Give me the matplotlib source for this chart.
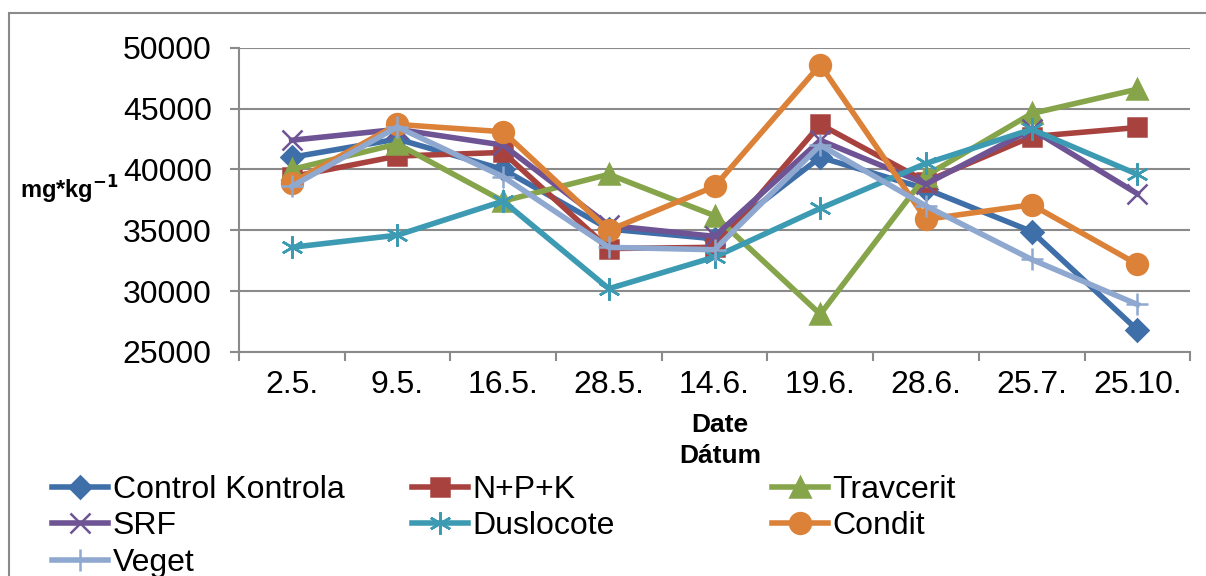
import numpy as np
import matplotlib.pyplot as plt
from matplotlib.patches import Rectangle

plt.rcParams['font.family'] = ['Liberation Sans', 'DejaVu Sans']

dates = ['2.5.', '9.5.', '16.5.', '28.5.', '14.6.', '19.6.', '28.6.', '25.7.', '25.10.']

control = [41000, 42500, 40000, 35100, 34300, 41000, 38400, 34900, 26800]
npk = [39400, 41100, 41400, 33500, 33600, 43700, 39000, 42700, 43450]
travcerit = [40000, 42100, 37400, 39600, 36200, 28100, 39500, 44600, 46600]
srf = [42400, 43300, 42000, 35400, 34500, 42400, 38800, 43300, 38000]
duslocote = [33600, 34600, 37400, 30200, 32800, 36800, 40500, 43300, 39600]
condit = [38900, 43700, 43100, 35000, 38600, 48600, 35900, 37100, 32200]
veget = [38600, 43500, 39400, 33600, 33400, 42000, 37000, 32600, 28900]

names = ['Control Kontrola', 'N+P+K', 'Travcerit', 'SRF', 'Duslocote', 'Condit', 'Veget']
series = [control, npk, travcerit, srf, duslocote, condit, veget]
colors = ['#3f6fa8', '#a8423f', '#86a44a', '#6e5494', '#3c9bb3', '#dc8238', '#8fa8d0']
markers = ['D', 's', '^', 'x', (6, 2, 0), 'o', '+']
msizes = [11, 13, 14, 14, 16, 15, 16]

fig = plt.figure(figsize=(12.06, 5.76), dpi=100)
ax = fig.add_axes([0.198, 0.389, 0.789, 0.528])

x = np.arange(len(dates))
handles = []
for vals, nm, c, m, ms in zip(series, names, colors, markers, msizes):
    h, = ax.plot(x, vals, color=c, lw=4, marker=m, ms=ms, mec=c, mfc=c,
                 mew=1.8, label=nm)
    handles.append(h)

ax.set_xlim(-0.5, len(dates) - 0.5)
ax.set_ylim(25000, 50000)
ax.set_yticks(np.arange(25000, 50001, 5000))
ax.yaxis.grid(True, color='#8a8a8a', lw=1.5)
ax.set_axisbelow(True)
ax.set_xticks(x)
ax.set_xticklabels(dates)
ax.set_xticks(np.arange(-0.5, len(dates)), minor=True)
ax.tick_params(axis='x', which='major', length=0, labelsize=23, pad=13)
ax.tick_params(axis='x', which='minor', length=6.5, width=1.5, color='#8a8a8a', direction='out')
ax.tick_params(axis='y', length=6.5, width=1.5, color='#8a8a8a', labelsize=23, pad=13)
for s in ['top', 'right']:
    ax.spines[s].set_visible(False)
for s in ['left', 'bottom']:
    ax.spines[s].set_color('#8a8a8a')
    ax.spines[s].set_linewidth(1.5)

fig.text(20 / 1206, 1 - 190 / 576, r'mg*kg$^{\mathbf{-1}}$', fontsize=17, fontweight='bold',
         ha='left', va='center')
fig.text(720 / 1206, 1 - 425 / 576, 'Date', fontsize=19, fontweight='bold', ha='center', va='center')
fig.text(720 / 1206, 1 - 456 / 576, 'Dátum', fontsize=19, fontweight='bold', ha='center', va='center')

# legend: three equally spaced columns, like the spreadsheet chart
cols = [[0, 3, 6], [1, 4], [2, 5]]
col_x = [52, 412, 772]
for idx, cx in zip(cols, col_x):
    fig.legend([handles[i] for i in idx], [names[i] for i in idx],
               loc='upper left', bbox_to_anchor=(cx / 1206, 1 - 475 / 576),
               frameon=False, fontsize=23, handlelength=1.75, handletextpad=0.15,
               labelspacing=0.2, borderaxespad=0, borderpad=0)

fig.patches.append(Rectangle((9 / 1206, -0.1), 1.2, 1.1 - 13 / 576, transform=fig.transFigure,
                             fill=False, edgecolor='#8a8a8a', lw=1.5))

fig.savefig('out.png', dpi=100)
